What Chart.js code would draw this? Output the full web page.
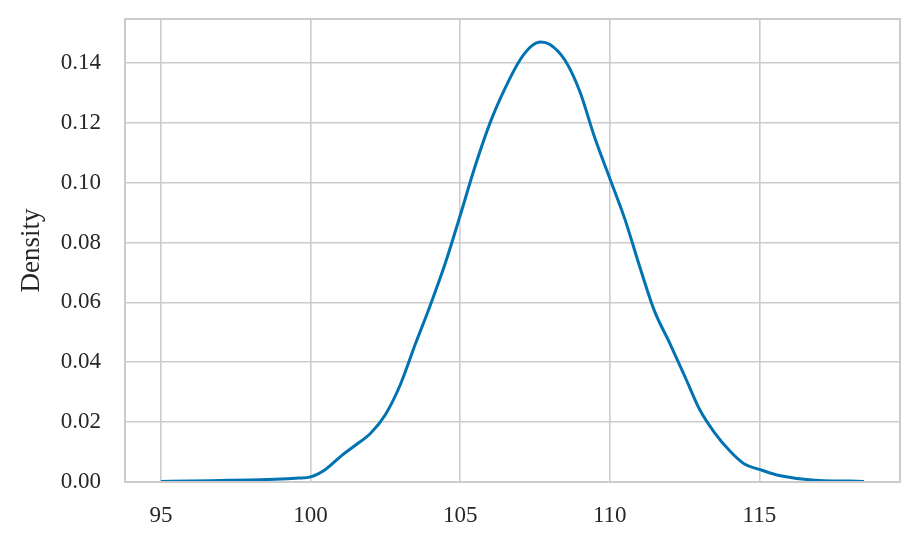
<!DOCTYPE html>
<html>
<head>
<meta charset="utf-8">
<script src="https://cdn.jsdelivr.net/npm/chart.js@4.4.1/dist/chart.umd.min.js"></script>
<style>
  html, body { margin: 0; padding: 0; background: #fff; }
  #wrap { width: 919px; height: 548px; }
</style>
</head>
<body>
<div id="wrap"><canvas id="kde"></canvas></div>
<script>
// values
const xValues = [95.0, 96.0, 97.0, 98.0, 99.0, 99.6, 100.0, 100.5, 101.0, 101.5,
  102.0, 102.5, 103.0, 103.5, 104.0, 104.5, 105.0, 105.5, 106.0, 106.5,
  107.0, 107.4, 107.7, 108.0, 108.5, 109.0, 109.5, 110.0, 110.5, 111.0,
  111.5, 112.0, 112.5, 113.0, 113.5, 114.0, 114.5, 115.0, 115.5, 116.0,
  116.5, 117.0, 118.0, 118.5];
const densityValues = [0.0002, 0.0003, 0.0005, 0.0007, 0.0010, 0.0013, 0.0017, 0.0042, 0.0085, 0.0123,
  0.0162, 0.0225, 0.0325, 0.0460, 0.0590, 0.0730, 0.0890, 0.1055, 0.1200, 0.1315,
  0.1410, 0.1458, 0.1470, 0.1462, 0.1410, 0.1305, 0.1150, 0.1015, 0.0880, 0.0720,
  0.0570, 0.0465, 0.0355, 0.0243, 0.0165, 0.0105, 0.0060, 0.0042, 0.0026, 0.0016,
  0.0009, 0.0005, 0.0003, 0.0002];

const xTicks = [95, 100, 105, 110, 115];
const yTicks = [0, 0.02, 0.04, 0.06, 0.08, 0.10, 0.12, 0.14];

const gridGrey = '#cccccc';
const textColor = '#262626';
const serif = "'Liberation Serif', 'DejaVu Serif', serif";

// matplotlib style: full box of spines
const boxPlugin = {
  id: 'box',
  afterDraw(chart) {
    const a = chart.chartArea;
    const ctx = chart.ctx;
    ctx.save();
    ctx.strokeStyle = gridGrey;
    ctx.lineWidth = 2;
    ctx.strokeRect(a.left, a.top, a.right - a.left, a.bottom - a.top);
    ctx.restore();
  }
};

const points = xValues.map((x, i) => ({ x: x, y: densityValues[i] }));

new Chart(document.getElementById('kde').getContext('2d'), {
  type: 'line',
  data: {
    datasets: [{
      data: points,
      borderColor: '#0173b2',
      borderWidth: 3,
      pointRadius: 0,
      fill: false,
      cubicInterpolationMode: 'monotone'
    }]
  },
  options: {
    responsive: true,
    maintainAspectRatio: false,
    animation: false,
    layout: { padding: { top: 19, right: 19, left: 0, bottom: 0 } },
    plugins: { legend: { display: false }, tooltip: { enabled: false } },
    scales: {
      x: {
        type: 'linear',
        min: 93.8,
        max: 119.7,
        afterBuildTicks: s => { s.ticks = xTicks.map(v => ({ value: v })); },
        afterFit: s => { s.height = 66; s.paddingLeft = 0; s.paddingRight = 0; },
        grid: { color: gridGrey, lineWidth: 1.6, drawTicks: false },
        border: { display: false },
        ticks: {
          padding: 20,
          color: textColor,
          font: { family: serif, size: 23 },
          maxRotation: 0,
          callback: v => String(v)
        }
      },
      y: {
        min: 0,
        max: 0.1547,
        afterBuildTicks: s => { s.ticks = yTicks.map(v => ({ value: v })); },
        afterFit: s => { s.width = 125; s.paddingTop = 0; s.paddingBottom = 0; },
        grid: { color: gridGrey, lineWidth: 1.6, drawTicks: false },
        border: { display: false },
        title: {
          display: true,
          text: 'Density',
          color: textColor,
          font: { family: serif, size: 27 },
          padding: { top: 16, bottom: 0 }
        },
        ticks: {
          padding: 24,
          color: textColor,
          font: { family: serif, size: 23 },
          callback: v => v.toFixed(2)
        }
      }
    }
  },
  plugins: [boxPlugin]
});
</script>
</body>
</html>
